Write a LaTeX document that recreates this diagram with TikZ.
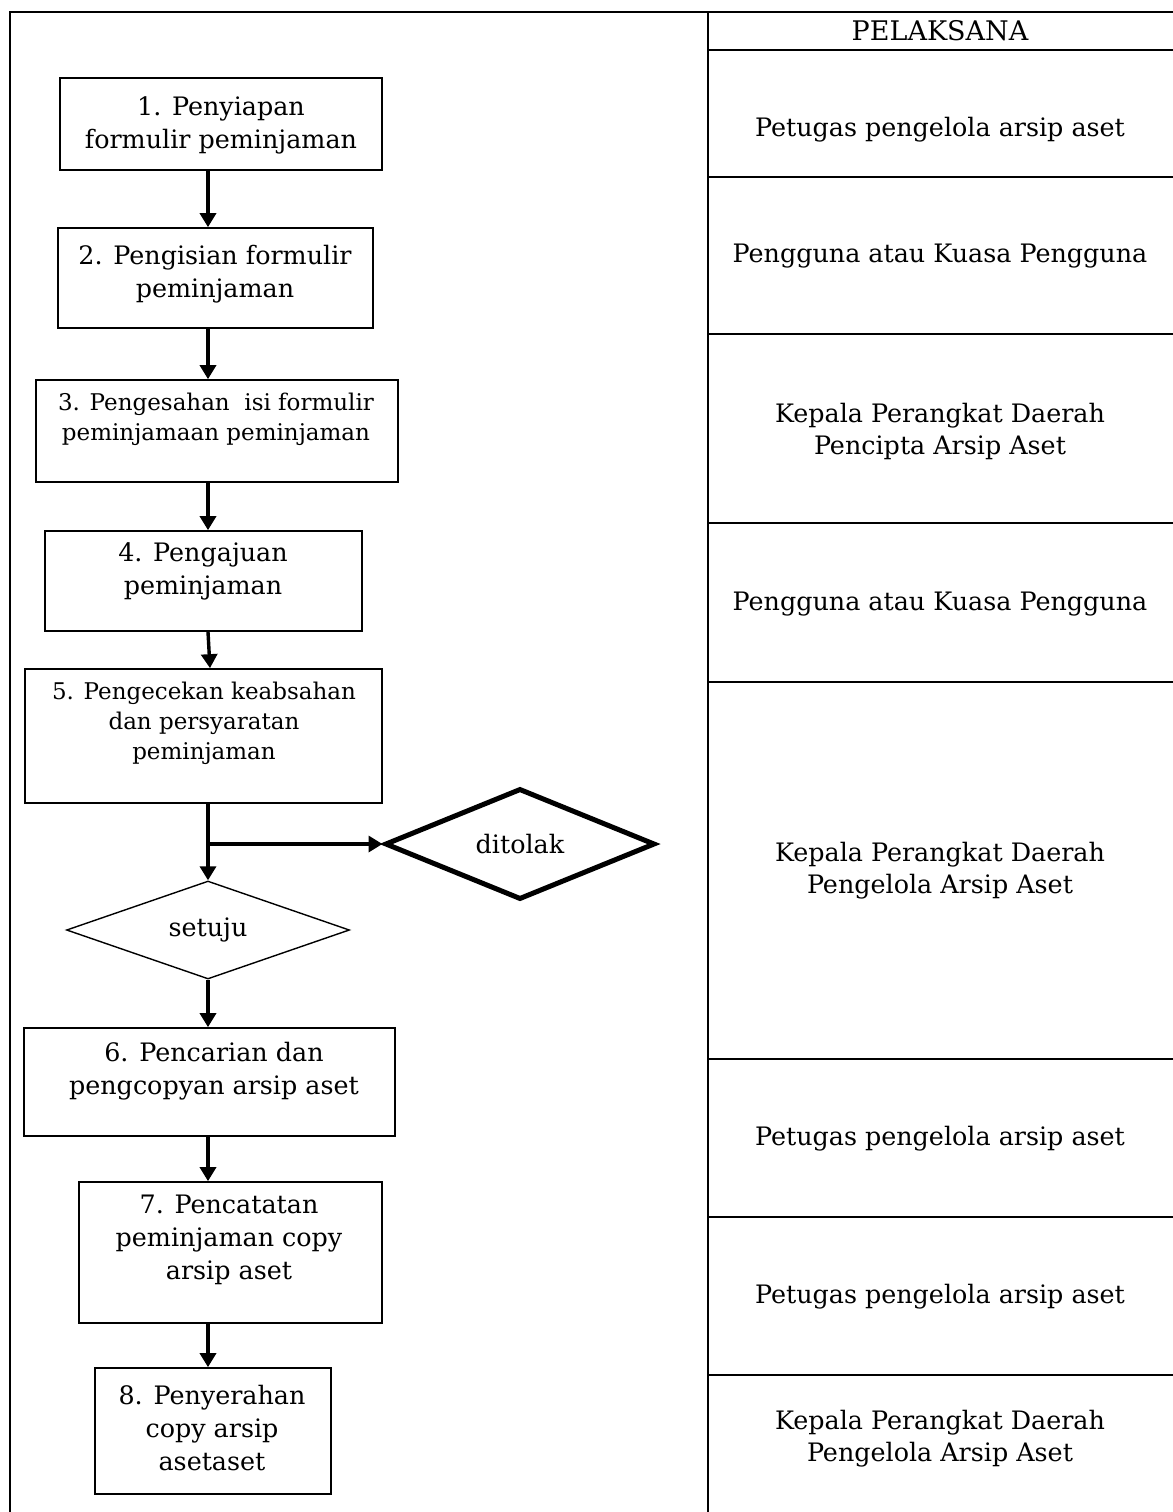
\documentclass[tikz,border=0pt]{standalone}
\usepackage{fontspec}
\setmainfont{DejaVu Serif}
\usetikzlibrary{arrows.meta,positioning,shapes.geometric}

\begin{document}
\begin{tikzpicture}[
        x=0.5pt, y=-0.5pt,
        stepbox/.style={draw, line width=0.85pt, inner sep=0pt},
        steptext/.style={align=center, inner sep=0pt, font=\fontsize{12.7}{16.5}\selectfont},
        smalltext/.style={align=center, inner sep=0pt, font=\fontsize{11.5}{15}\selectfont},
        roletext/.style={align=center, inner sep=0pt, font=\fontsize{12.7}{16}\selectfont},
        decision/.style={diamond, draw, aspect=2.5, inner sep=0pt, font=\fontsize{12.7}{16}\selectfont},
        gridline/.style={line width=1.3pt},
        arrow/.style={-{Triangle[length=7pt, width=8pt]}, line width=1.7pt}
      ]
        \useasboundingbox (0,0) rectangle (1173,1512);

        % frame and PELAKSANA column
        \draw[gridline] (10,1512) -- (10,12) -- (1173,12);
        \draw[gridline] (708,12) -- (708,1512);
        \foreach \y in {50,177,334,523,682,1059,1217,1375}
          \draw[gridline] (708,\y) -- (1173,\y);

        \node[roletext, font=\fontsize{13.5}{16}\selectfont] (head) at (940,31) {PELAKSANA};
        \node[roletext] (role1) at (940,130) {Petugas pengelola arsip aset};
        \node[roletext] (role2) at (940,256) {Pengguna atau Kuasa Pengguna};
        \node[roletext] (role3) at (940,431) {Kepala Perangkat Daerah\\Pencipta Arsip Aset};
        \node[roletext] (role4) at (940,604) {Pengguna atau Kuasa Pengguna};
        \node[roletext] (role5) at (940,871) {Kepala Perangkat Daerah\\Pengelola Arsip Aset};
        \node[roletext] (role6) at (940,1139) {Petugas pengelola arsip aset};
        \node[roletext] (role7) at (940,1297) {Petugas pengelola arsip aset};
        \node[roletext] (role8) at (940,1439) {Kepala Perangkat Daerah\\Pengelola Arsip Aset};

        % flow steps
        \coordinate (spine) at (208,0);
        \node[stepbox, minimum width=161pt, minimum height=46pt] (b1) at (221,124) {};
        \node[stepbox, minimum width=157.5pt, minimum height=50pt] (b2) at (215.5,278) {};
        \node[stepbox, minimum width=181pt, minimum height=51pt] (b3) at (217,431) {};
        \node[stepbox, minimum width=158.5pt, minimum height=50pt] (b4) at (203.5,581) {};
        \node[stepbox, minimum width=178.5pt, minimum height=67pt] (b5) at (203.5,736) {};
        \node[stepbox, minimum width=185.5pt, minimum height=54pt] (b6) at (209.5,1082) {};
        \node[stepbox, minimum width=151.5pt, minimum height=70.5pt] (b7) at (230.5,1252.5) {};
        \node[stepbox, minimum width=118pt, minimum height=63pt] (b8) at (213,1431) {};

        \node[steptext] (t1) at (221,125) {1. Penyiapan\\formulir peminjaman};
        \node[steptext] (t2) at (215,274) {2. Pengisian formulir\\peminjaman};
        \node[smalltext] (t3) at (216,419) {3. Pengesahan\ \ isi formulir\\peminjamaan peminjaman};
        \node[steptext] (t4) at (203,571) {4. Pengajuan\\peminjaman};
        \node[smalltext] (t5) at (204,723) {5. Pengecekan keabsahan\\dan persyaratan\\peminjaman};
        \node[steptext] (t6) at (214,1071) {6. Pencarian dan\\pengcopyan arsip aset};
        \node[steptext] (t7) at (229,1240) {7. Pencatatan\\peminjaman copy\\arsip aset};
        \node[steptext] (t8) at (212,1428) {8. Penyerahan\\copy arsip\\asetaset};

        \node[decision, line width=2.5pt, minimum width=135pt, minimum height=55.5pt] (tolak) at (520,844) {ditolak};
        \node[decision, line width=0.7pt, minimum width=141.5pt, minimum height=49pt] (setuju) at (208,930) {setuju};

        \draw[arrow] (b1.south -| spine) -- (b2.north -| spine);
        \draw[arrow] (b2.south -| spine) -- (b3.north -| spine);
        \draw[arrow] (b3.south -| spine) -- (b4.north -| spine);
        \draw[arrow] (b4.south -| spine) -- ([xshift=1pt]b5.north -| spine);
        \draw[arrow] (b5.south -| setuju) -- (setuju.north);
        \draw[arrow] (spine |- tolak.west) -- (tolak.west);
        \draw[arrow] (setuju.south) -- (b6.north -| setuju);
        \draw[arrow] (b6.south -| spine) -- (b7.north -| spine);
        \draw[arrow] (b7.south -| spine) -- (b8.north -| spine);
      \end{tikzpicture}
\end{document}
